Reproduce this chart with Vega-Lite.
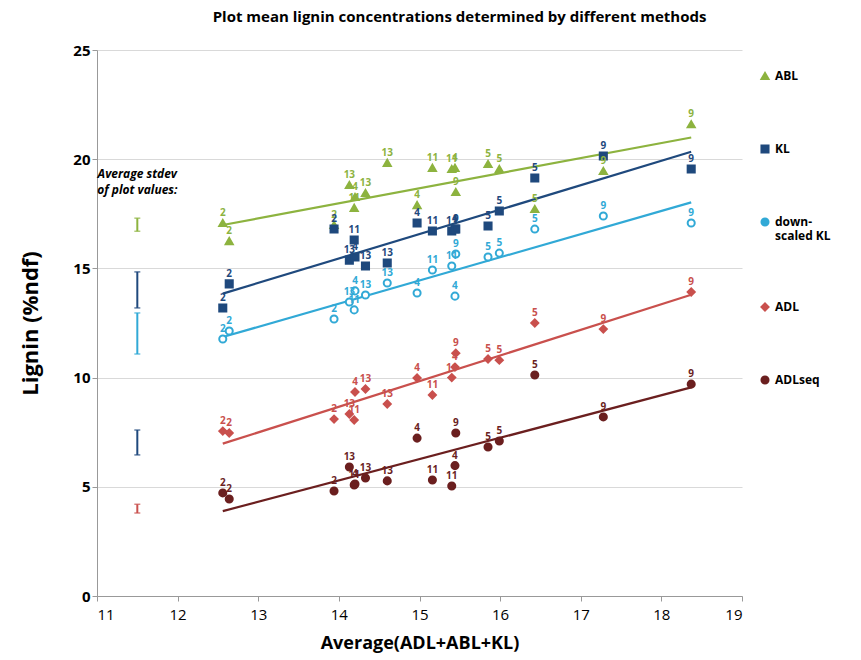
{
  "$schema": "https://vega.github.io/schema/vega-lite/v6.json",
  "autosize": "none",
  "padding": {"left": 97, "top": 50, "right": 119, "bottom": 64},
  "width": 645,
  "height": 546,
  "title": {"text": "Plot mean lignin concentrations determined by different methods", "fontSize": 15, "font": "Open Sans", "fontWeight": "bold", "offset": 18, "anchor": "middle", "dx": 40},
  "config": {"font": "Open Sans", "view": {"stroke": null}},
  "datasets": {
    "plots": [
      {"x": 12.56, "site": "2", "ABL": 17.08, "KL": 13.19, "down-scaled KL": 11.77, "ADL": 7.55, "ADLseq": 4.72},
      {"x": 12.64, "site": "2", "ABL": 16.25, "KL": 14.29, "down-scaled KL": 12.13, "ADL": 7.46, "ADLseq": 4.44},
      {"x": 13.94, "site": "2", "ABL": 16.99, "KL": 16.8, "down-scaled KL": 12.68, "ADL": 8.1, "ADLseq": 4.81},
      {"x": 14.13, "site": "13", "ABL": 18.82, "KL": 15.38, "down-scaled KL": 13.46, "ADL": 8.33, "ADLseq": 5.91},
      {"x": 14.19, "site": "11", "ABL": 17.77, "KL": 16.3, "down-scaled KL": 13.1, "ADL": 8.06, "ADLseq": 5.08},
      {"x": 14.2, "site": "4", "ABL": 18.27, "KL": 15.52, "down-scaled KL": 13.97, "ADL": 9.34, "ADLseq": 5.13},
      {"x": 14.33, "site": "13", "ABL": 18.45, "KL": 15.11, "down-scaled KL": 13.78, "ADL": 9.48, "ADLseq": 5.4},
      {"x": 14.6, "site": "13", "ABL": 19.83, "KL": 15.25, "down-scaled KL": 14.33, "ADL": 8.79, "ADLseq": 5.27},
      {"x": 14.97, "site": "4", "ABL": 17.9, "KL": 17.08, "down-scaled KL": 13.87, "ADL": 9.98, "ADLseq": 7.23},
      {"x": 15.16, "site": "11", "ABL": 19.6, "KL": 16.71, "down-scaled KL": 14.93, "ADL": 9.2, "ADLseq": 5.31},
      {"x": 15.4, "site": "11", "ABL": 19.55, "KL": 16.71, "down-scaled KL": 15.11, "ADL": 10.0, "ADLseq": 5.04},
      {"x": 15.44, "site": "4", "ABL": 19.6, "KL": 16.8, "down-scaled KL": 13.73, "ADL": 10.48, "ADLseq": 5.97},
      {"x": 15.45, "site": "9", "ABL": 18.5, "KL": 16.8, "down-scaled KL": 15.66, "ADL": 11.12, "ADLseq": 7.46},
      {"x": 15.85, "site": "5", "ABL": 19.78, "KL": 16.94, "down-scaled KL": 15.52, "ADL": 10.85, "ADLseq": 6.82},
      {"x": 15.99, "site": "5", "ABL": 19.55, "KL": 17.63, "down-scaled KL": 15.7, "ADL": 10.8, "ADLseq": 7.1},
      {"x": 16.43, "site": "5", "ABL": 17.72, "KL": 19.14, "down-scaled KL": 16.8, "ADL": 12.5, "ADLseq": 10.12},
      {"x": 17.28, "site": "9", "ABL": 19.46, "KL": 20.15, "down-scaled KL": 17.4, "ADL": 12.22, "ADLseq": 8.2},
      {"x": 18.37, "site": "9", "ABL": 21.6, "KL": 19.55, "down-scaled KL": 17.08, "ADL": 13.92, "ADLseq": 9.7}
    ],
    "stdev": [
      {"x": 11.5, "series": "ABL", "lo": 16.7, "hi": 17.3},
      {"x": 11.5, "series": "KL", "lo": 13.19, "hi": 14.84},
      {"x": 11.5, "series": "down-scaled KL", "lo": 11.08, "hi": 12.96},
      {"x": 11.5, "series": "KL", "lo": 6.46, "hi": 7.6},
      {"x": 11.5, "series": "ADL", "lo": 3.8, "hi": 4.2}
    ],
    "note": [{"x": 11.5, "y": 19.3, "t": ["Average stdev", "of plot values:"]}]
  },
  "encoding": {
    "x": {"field": "x", "type": "quantitative", "scale": {"domain": [11, 19], "zero": false},
      "axis": {"title": "Average(ADL+ABL+KL)", "titleFontSize": 18, "titleFontWeight": "bold", "titlePadding": 12, "labelFontSize": 15, "labelColor": "#000", "grid": false, "tickCount": 8, "domainColor": "#999", "tickColor": "#999", "labelPadding": 6}},
    "y": {"field": "v", "type": "quantitative", "scale": {"domain": [0, 25]},
      "axis": {"title": "Lignin (%ndf)", "titleFontSize": 22, "titleFontWeight": "bold", "titlePadding": 30, "labelFontSize": 15, "labelFontWeight": "bold", "labelColor": "#000", "values": [0, 5, 10, 15, 20, 25], "gridColor": "#d9d9d9", "domainColor": "#999", "tickColor": "#999"}},
    "color": {"field": "series", "type": "nominal",
      "scale": {"domain": ["ABL", "KL", "down-scaled KL", "ADL", "ADLseq"], "range": ["#8db33f", "#1f497d", "#31a9d6", "#c9504d", "#6b1f1f"]},
      "legend": {"title": null, "orient": "none", "legendX": 662, "legendY": 20, "rowPadding": 57, "labelFontSize": 12, "labelFontWeight": "bold", "labelColor": "#000", "symbolStrokeWidth": 2, "symbolSize": 50, "symbolOpacity": 1,
        "labelExpr": "datum.label == 'down-scaled KL' ? ['down-', 'scaled KL'] : datum.label"}}
  },
  "layer": [
    {
      "data": {"name": "note"},
      "mark": {"type": "text", "fontStyle": "italic", "fontWeight": "bold", "fontSize": 12, "lineHeight": 16, "align": "center", "color": "#000"},
      "encoding": {
        "y": {"field": "y", "type": "quantitative"},
        "text": {"field": "t"},
        "color": null
      }
    },
    {
      "data": {"name": "stdev"},
      "mark": {"type": "rule", "strokeWidth": 2},
      "encoding": {
        "y": {"field": "lo", "type": "quantitative"},
        "y2": {"field": "hi"}
      }
    },
    {
      "data": {"name": "stdev"},
      "transform": [{"fold": ["lo", "hi"], "as": ["end", "v"]}],
      "mark": {"type": "tick", "orient": "horizontal", "size": 6, "thickness": 1.5},
      "encoding": {}
    },
    {
      "data": {"name": "plots"},
      "transform": [
        {"fold": ["ABL", "KL", "down-scaled KL", "ADL", "ADLseq"], "as": ["series", "v"]},
        {"regression": "v", "on": "x", "groupby": ["series"]}
      ],
      "mark": {"type": "line", "strokeWidth": 2.2},
      "encoding": {}
    },
    {
      "data": {"name": "plots"},
      "transform": [{"fold": ["ABL", "KL", "down-scaled KL", "ADL", "ADLseq"], "as": ["series", "v"]}],
      "mark": {"type": "point", "filled": false, "strokeWidth": 2, "size": 50, "opacity": 1},
      "encoding": {
        "fill": {"field": "series", "type": "nominal",
          "scale": {"domain": ["ABL", "KL", "down-scaled KL", "ADL", "ADLseq"], "range": ["#8db33f", "#1f497d", "#ffffff", "#c9504d", "#6b1f1f"]}},
        "shape": {"field": "series", "type": "nominal",
          "scale": {"domain": ["ABL", "KL", "down-scaled KL", "ADL", "ADLseq"], "range": ["triangle-up", "square", "circle", "diamond", "circle"]}}
      }
    },
    {
      "data": {"name": "plots"},
      "transform": [{"fold": ["ABL", "KL", "down-scaled KL", "ADL", "ADLseq"], "as": ["series", "v"]}],
      "mark": {"type": "text", "dy": -10, "fontSize": 10, "fontWeight": "bold"},
      "encoding": {"text": {"field": "site"}}
    }
  ]
}
